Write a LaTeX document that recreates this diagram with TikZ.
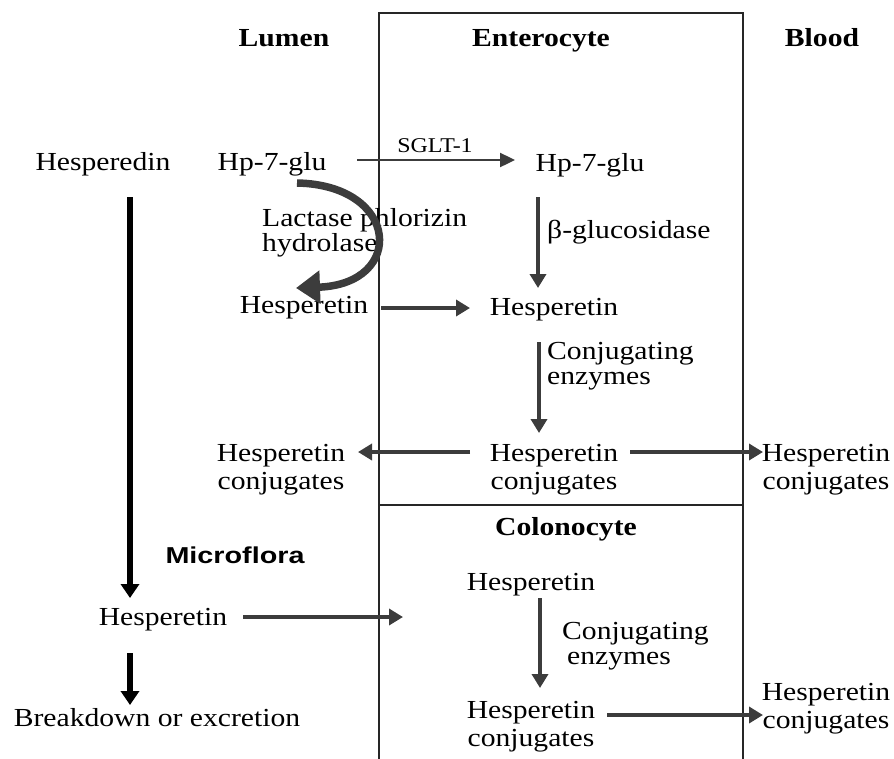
\documentclass[tikz,border=0pt]{standalone}
\usepackage{fontspec}
\setmainfont[FakeStretch=1.14]{Liberation Serif}
\newfontfamily\sansb[FakeStretch=1.25]{Liberation Sans}
\usetikzlibrary{arrows.meta}
\definecolor{arrgray}{HTML}{3C3C3C}
\begin{document}
\begin{tikzpicture}[x=1pt,y=-1pt,
  txt/.style={font=\fontsize{26}{28}\selectfont, inner sep=0pt, align=center},
  ltxt/.style={font=\fontsize{26}{25.5}\selectfont, inner sep=0pt, align=left, anchor=west},
  smalltxt/.style={font=\fontsize{21}{24}\selectfont, inner sep=0pt},
  head/.style={font=\fontsize{26}{28}\selectfont\bfseries, inner sep=0pt, anchor=base},
  boxline/.style={draw=black!85, line width=1.8pt},
  thinarr/.style={draw=arrgray, line width=2.4pt, -{Triangle[length=15pt,width=14pt]}},
  grayarr/.style={draw=arrgray, line width=4.5pt, -{Triangle[length=14pt,width=16pt]}},
  blackarr/.style={draw=black, line width=5.5pt, -{Triangle[length=14pt,width=18pt]}},
  curvarr/.style={draw=arrgray, line width=7.5pt, -{Triangle[length=24pt,width=32pt]}}
]
\useasboundingbox (0,0) rectangle (894,758);
% compartments
\draw[boxline] (379,760) -- (379,13) -- (743,13) -- (743,760);
\draw[boxline] (379,505) -- (743,505);
% headings
\node[head] (lumen) at (284,46) {Lumen};
\node[head] (entero) at (541,46) {Enterocyte};
\node[head] (blood) at (822,46) {Blood};
\node[head] (colono) at (566,535) {Colonocyte};
\node[inner sep=0pt, font=\fontsize{23}{24}\sansb\bfseries] (micro) at (235,555) {Microflora};
% texts
\node[txt] (hesd) at (103,164) {Hesperedin};
\node[txt] (hp1) at (272,164) {Hp-7-glu};
\node[smalltxt] (sglt) at (435,146) {SGLT-1};
\node[txt] (hp2) at (590,165) {Hp-7-glu};
\node[ltxt] (lph) at (262,233) {Lactase phlorizin\\hydrolase};
\node[ltxt] (beta) at (547,232) {β-glucosidase};
\node[txt] (hpt1) at (304,308) {Hesperetin};
\node[txt] (hpt2) at (554,310) {Hesperetin};
\node[ltxt] (conj1) at (547,366) {Conjugating\\enzymes};
\node[txt] (hc2) at (554,470) {Hesperetin\\conjugates};
\node[txt] (hcL) at (281,470) {Hesperetin\\conjugates};
\node[txt] (hcR) at (826,470) {Hesperetin\\conjugates};
\node[txt] (hspL) at (163,620) {Hesperetin};
\node[txt] (brk) at (157,718) {Breakdown or excretion};
\node[txt] (hsc1) at (531,585) {Hesperetin};
\node[ltxt] (conj2) at (562,646) {Conjugating\\\hspace{5pt}enzymes};
\node[txt] (hsc2) at (531,727) {Hesperetin\\conjugates};
\node[txt] (hsc3) at (826,709) {Hesperetin\\conjugates};
\coordinate (colin) at (403,617);
% arrows
\draw[thinarr] ([shift={(85,-4)}]hp1.center) -- ([shift={(-75,-5)}]hp2.center);
\draw[curvarr] ([shift={(25,19)}]hp1.center) .. controls +(103,2) and +(110,-4) .. ([shift={(-8,-20)}]hpt1.center);
\draw[grayarr] ([shift={(77,0)}]hpt1.center) -- ([shift={(-84,-2)}]hpt2.center);
\draw[grayarr] ([shift={(-52,32)}]hp2.center) -- ([shift={(-16,-22)}]hpt2.center);
\draw[grayarr] ([shift={(-15,32)}]hpt2.center) -- ([shift={(-15,-37)}]hc2.center);
\draw[grayarr] ([shift={(-84,-18)}]hc2.center) -- ([shift={(77,-18)}]hcL.center);
\draw[grayarr] ([shift={(76,-18)}]hc2.center) -- ([shift={(-63,-18)}]hcR.center);
\draw[blackarr] ([shift={(27,33)}]hesd.center) -- ([shift={(-33,-22)}]hspL.center);
\draw[grayarr] ([shift={(80,-3)}]hspL.center) -- (colin);
\draw[blackarr] ([shift={(-33,33)}]hspL.center) -- ([shift={(-27,-13)}]brk.center);
\draw[grayarr] ([shift={(9,13)}]hsc1.center) -- ([shift={(9,-39)}]hsc2.center);
\draw[grayarr] ([shift={(76,-12)}]hsc2.center) -- ([shift={(-63,6)}]hsc3.center);
\end{tikzpicture}
\end{document}
